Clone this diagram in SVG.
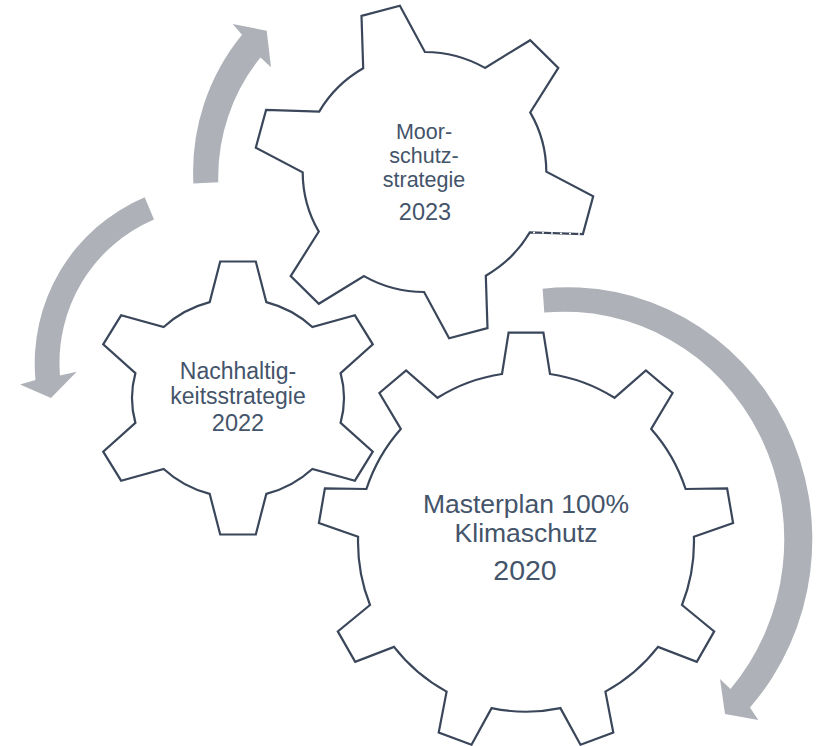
<svg xmlns="http://www.w3.org/2000/svg" width="818" height="746" viewBox="0 0 818 746">
  <style>
    .gear { fill: #ffffff; stroke: #3a4659; stroke-width: 2.2; stroke-linejoin: miter; }
    .arrow { fill: #aeb1b8; stroke: none; }
    .lbl { font-family: "Liberation Sans", Arial, sans-serif; fill: #44546a; text-anchor: middle; }
  </style>
  <rect width="818" height="746" fill="#ffffff"/>

  <g id="connectors">
    <path id="arrow-2022-2023" class="arrow" d="M193.4,183.5 A217,217 0 0 1 242.0,34.8 L232.7,24 L266.7,30.7 L271,67.3 L260.5,57.5 A190,190 0 0 0 218.3,182.3 Z"/>
    <path id="arrow-2023-2022" class="arrow" d="M144.7,197.3 A180,180 0 0 0 35.5,380 L20,384.5 L51,398 L76.7,371.7 L60,375.5 A156,156 0 0 1 154.0,219.4 Z"/>
    <path id="arrow-2023-2020" class="arrow" d="M542.6,288.7 A244,252 0 0 1 750,707.5 L758.3,720 L725,714 L720,679 L730.5,689 A220,228 0 0 0 544.3,312.6 Z"/>
  </g>

  <g id="gear-moorschutz">
    <path class="gear" d="M363.2,68.3 L361.5,15.9 L399.9,5.8 L424.9,52.0 A121.8,120 0 0 1 485.0,67.9 L530.2,40.2 L558.3,67.9 L530.2,112.4 A121.8,120 0 0 1 546.3,171.6 L593.2,196.3 L582.9,234.1 L529.8,232.4 A121.8,120 0 0 1 485.8,275.7 L487.5,328.1 L449.1,338.2 L424.1,292.0 A121.8,120 0 0 1 364.0,276.1 L318.8,303.8 L290.7,276.1 L318.8,231.6 A121.8,120 0 0 1 302.7,172.4 L255.8,147.7 L266.1,109.9 L319.2,111.6 A121.8,120 0 0 1 363.2,68.3 Z"/>
    <path d="M580,234 L531,232.4" fill="none" stroke="#ffffff" stroke-width="1.4" stroke-dasharray="2 7"/>
    <text class="lbl" font-size="21.5" x="424" y="139">Moor-</text>
    <text class="lbl" font-size="21.5" x="424" y="163">schutz-</text>
    <text class="lbl" font-size="21.5" x="424" y="187">strategie</text>
    <text class="lbl" font-size="23.5" x="425" y="220">2023</text>
  </g>

  <g id="gear-nachhaltigkeit">
    <path class="gear" d="M209.7,302.1 L220.2,261.5 L255.8,261.5 L266.3,302.1 A106,99.5 0 0 1 312.3,327.0 L354.9,315.3 L372.8,344.3 L340.6,373.1 A106,99.5 0 0 1 340.6,422.9 L372.8,451.7 L354.9,480.7 L312.3,469.0 A106,99.5 0 0 1 266.3,493.9 L255.8,534.5 L220.2,534.5 L209.7,493.9 A106,99.5 0 0 1 163.7,469.0 L121.1,480.7 L103.2,451.7 L135.4,422.9 A106,99.5 0 0 1 135.4,373.1 L103.2,344.3 L121.1,315.3 L163.7,327.0 A106,99.5 0 0 1 209.7,302.1 Z"/>
    <text class="lbl" font-size="23" x="238" y="379">Nachhaltig-</text>
    <text class="lbl" font-size="23" x="238" y="404">keitsstrategie</text>
    <text class="lbl" font-size="23.5" x="238" y="431">2022</text>
  </g>

  <g id="gear-masterplan">
    <path class="gear" d="M502.0,374.0 L508.6,332.7 L543.4,332.7 L550.0,374.0 A168,169.7 0 0 1 614.5,397.8 L645.9,370.4 L672.6,393.0 L651.2,428.9 A168,169.7 0 0 1 685.6,489.0 L727.1,488.4 L733.1,523.0 L693.9,536.7 A168,169.7 0 0 1 682.0,605.0 L714.2,631.4 L696.8,661.8 L658.0,646.9 A168,169.7 0 0 1 605.4,691.6 L613.3,732.6 L580.5,744.7 L560.4,708.1 A168,169.7 0 0 1 491.6,708.1 L471.5,744.7 L438.7,732.6 L446.6,691.6 A168,169.7 0 0 1 394.0,646.9 L355.2,661.8 L337.8,631.4 L370.0,605.0 A168,169.7 0 0 1 358.1,536.7 L318.9,523.0 L324.9,488.4 L366.4,489.0 A168,169.7 0 0 1 400.8,428.9 L379.4,393.0 L406.1,370.4 L437.5,397.8 A168,169.7 0 0 1 502.0,374.0 Z"/>
    <text class="lbl" font-size="26.5" x="526" y="513">Masterplan 100%</text>
    <text class="lbl" font-size="26.5" x="526" y="542">Klimaschutz</text>
    <text class="lbl" font-size="28.5" x="525" y="580">2020</text>
  </g>
</svg>
